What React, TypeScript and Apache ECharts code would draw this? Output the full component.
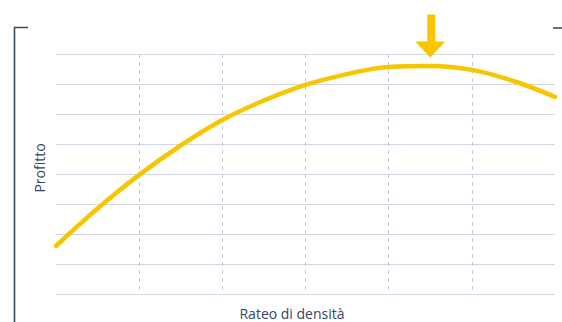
import React, { useEffect, useRef } from "react";
import * as echarts from "echarts";

const densityRatio: number[] = [0, 0.5, 1, 1.5, 2, 2.5, 3, 3.5, 4, 4.5, 5, 5.5, 6];
const profit: number[] = [1.6, 2.85, 3.97, 4.95, 5.8, 6.45, 6.97, 7.33, 7.57, 7.6, 7.47, 7.1, 6.57];
const peakIndex = 9;
const xAxisTitle = "Rateo di densità";
const yAxisTitle = "Profitto";

const YELLOW = "#f7c600";
const FRAME = "#3b4a63";
const TEXT = "#34465f";

export default function App() {
  const ref = useRef<HTMLDivElement>(null);
  useEffect(() => {
    if (!ref.current) return;
    const chart = echarts.init(ref.current, undefined, { renderer: "svg" });
    const data = densityRatio.map((x, i) => [x, profit[i]]);
    chart.setOption({
      animation: false,
      backgroundColor: "#ffffff",
      grid: { left: 56, right: 7, top: 54, bottom: 28, containLabel: false },
      xAxis: {
        type: "value",
        min: 0,
        max: 6,
        interval: 1,
        axisLine: { show: false },
        axisTick: { show: false },
        axisLabel: { show: false },
        splitLine: {
          show: true,
          showMinLine: false,
          showMaxLine: false,
          lineStyle: { color: "#c9ccdb", width: 1, type: [4, 4] },
        },
      },
      yAxis: {
        type: "value",
        min: 0,
        max: 8,
        interval: 1,
        axisLine: { show: false },
        axisTick: { show: false },
        axisLabel: { show: false },
        splitLine: {
          show: true,
          lineStyle: { color: "#d3d6e5", width: 1.2 },
        },
      },
      series: [
        {
          type: "line",
          data,
          smooth: 0.4,
          showSymbol: false,
          symbol: "none",
          lineStyle: { color: YELLOW, width: 4.5, cap: "round" },
          markPoint: {
            silent: true,
            data: [
              {
                coord: data[peakIndex],
                symbol:
                  "path://M12,0 L20,0 L20,27 L30,27 L15,43 L0,27 L12,27 Z",
                symbolSize: [30, 43],
                symbolOffset: [0, -30],
                itemStyle: { color: YELLOW },
                label: { show: false },
              },
            ],
          },
        },
      ],
      graphic: [
        {
          type: "polyline",
          shape: { points: [[28, 27.5], [14.5, 27.5], [14.5, 322]] },
          style: { stroke: FRAME, lineWidth: 1.6, fill: null },
        },
        {
          type: "line",
          shape: { x1: 553, y1: 28, x2: 562, y2: 28 },
          style: { stroke: FRAME, lineWidth: 1.6 },
        },
        {
          type: "text",
          x: 39,
          y: 168,
          rotation: Math.PI / 2,
          style: {
            text: yAxisTitle,
            fill: TEXT,
            font: '14px "Open Sans", sans-serif',
            align: "center",
            verticalAlign: "middle",
          },
        },
        {
          type: "text",
          x: 292,
          y: 313,
          style: {
            text: xAxisTitle,
            fill: TEXT,
            font: '14px "Open Sans", sans-serif',
            align: "center",
            verticalAlign: "middle",
          },
        },
      ],
    });
    return () => chart.dispose();
  }, []);
  return (
    <div
      ref={ref}
      style={{ position: "fixed", left: 0, top: 0, width: 562, height: 322 }}
    />
  );
}
